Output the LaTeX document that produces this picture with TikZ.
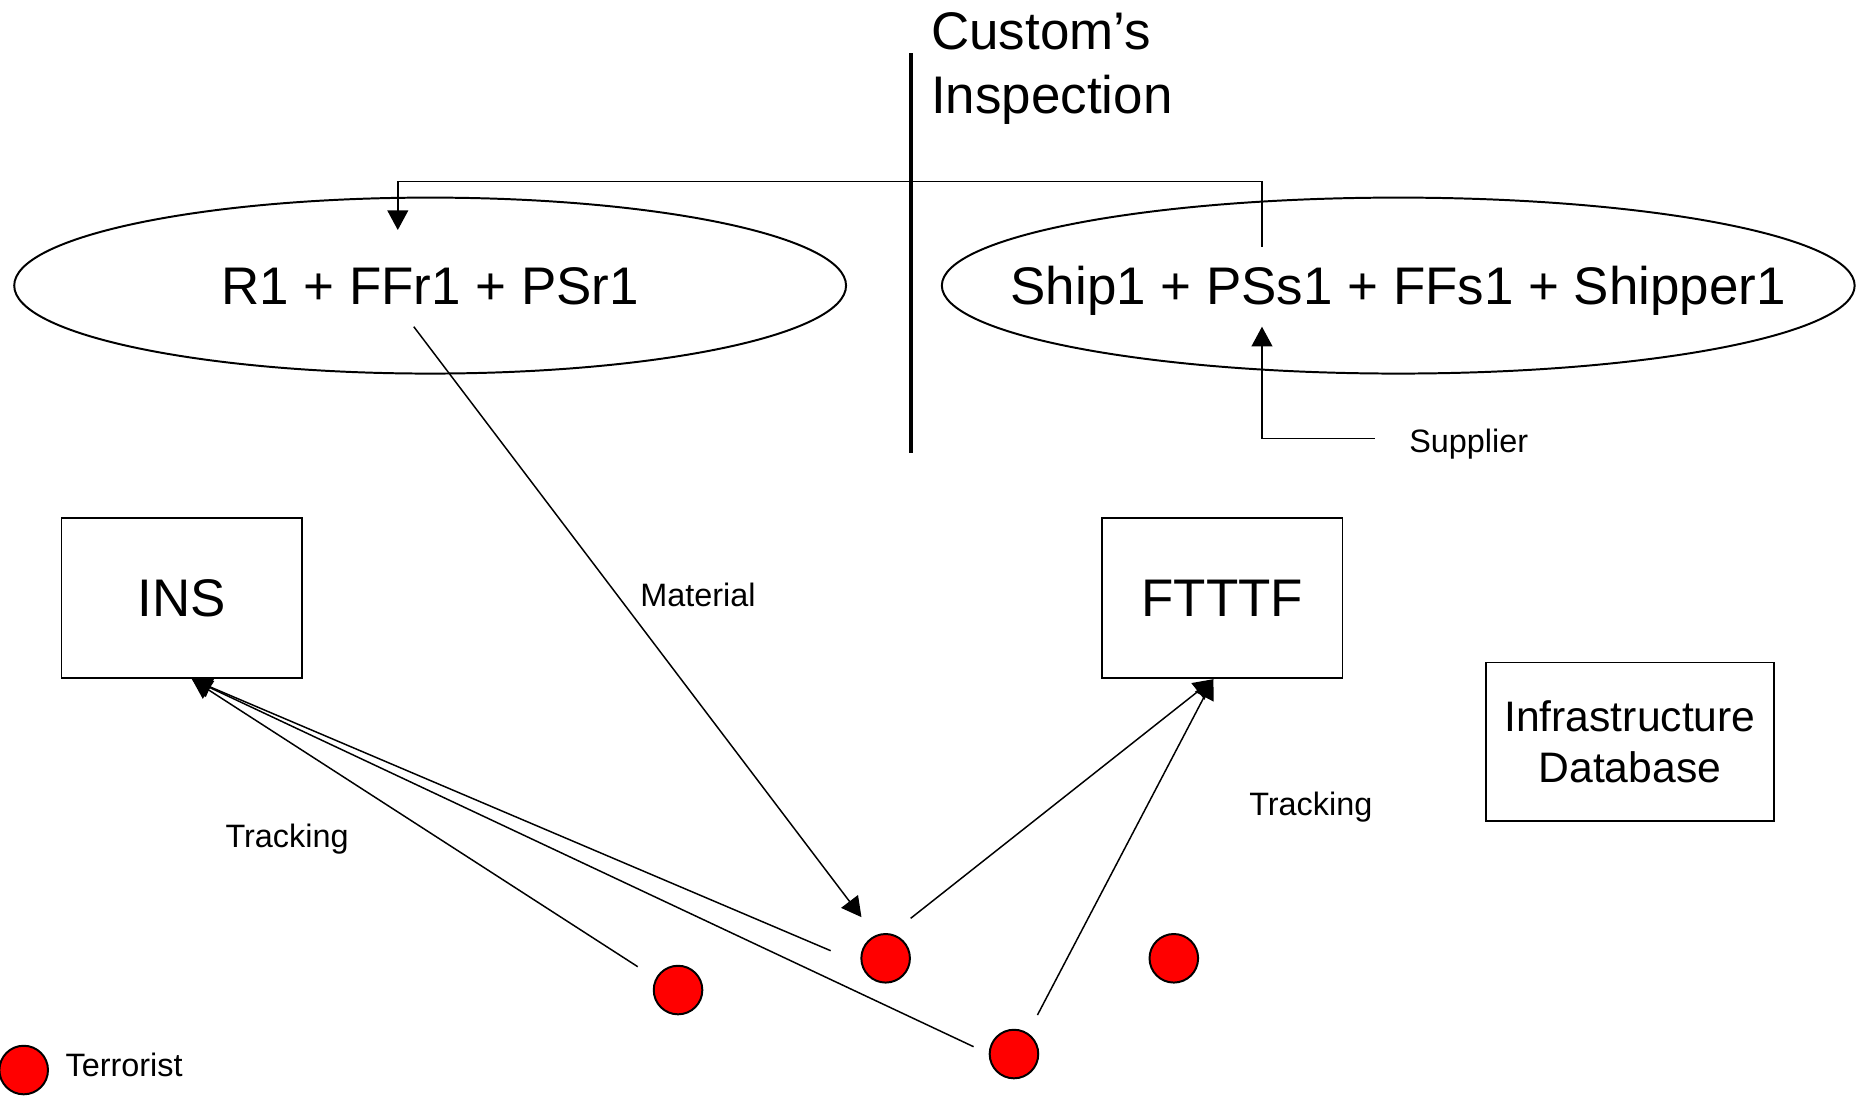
\documentclass[tikz,border=0pt]{standalone}
\usepackage{fontspec}
\setmainfont{Liberation Sans}
\usetikzlibrary{arrows.meta,shapes.geometric,calc}
\begin{document}
\begin{tikzpicture}[x=0.6pt,y=-0.6pt,
  bigfont/.style={font=\fontsize{26.8}{31}\selectfont},
  midfont/.style={font=\fontsize{21.6}{25.8}\selectfont},
  smallfont/.style={font=\fontsize{16.4}{19}\selectfont},
  group/.style={draw, line width=1pt, shape=ellipse, inner sep=0pt, minimum height=89.1pt},
  grouptext/.style={bigfont, text height=19.2pt, text depth=0pt, inner sep=0pt},
  agency/.style={draw, line width=0.8pt, rectangle, inner sep=0pt, bigfont, text height=19.2pt, text depth=0pt, minimum width=121.8pt, minimum height=81pt},
  terror/.style={draw, line width=1pt, fill=red, circle, inner sep=0pt, minimum size=24.6pt},
  lbl/.style={smallfont, text height=11.8pt, text depth=0pt, inner sep=0pt, anchor=west},
  conn/.style={line width=0.75pt, -{Triangle[length=10pt,width=10.6pt]}},
  heavy/.style={line width=1.8pt},
]
\useasboundingbox (0,0) rectangle (1568,928);

% groups
\node[group, minimum width=421.2pt] (R) at (363,241) {};
\node[grouptext] (Rt) at (R.center) {R1 + FFr1 + PSr1};
\node[group, minimum width=462.2pt] (S) at (1180,241) {};
\node[grouptext] (St) at (S.center) {Ship1 + PSs1 + FFs1 + Shipper1};

% customs line and title
\coordinate (vtop) at (769,45);
\coordinate (vbot) at (769,382);
\draw[heavy] (vtop) -- (vbot);
\node[bigfont, anchor=base west, inner sep=0pt] (cust) at (785.5,41.5) {Custom’s};
\node[bigfont, anchor=base west, inner sep=0pt] (insp) at (785.5,96) {Inspection};

% agencies
\node[agency] (INS) at (153.5,504.5) {INS};
\node[agency] (FT) at (1031.5,504.5) {FTTTF};
\node[draw, line width=0.8pt, midfont, align=center, minimum width=145.8pt, minimum height=80.4pt, inner sep=0pt] (DB) at (1375.5,626) {Infrastructure\\Database};

% terrorists
\node[terror] (t1) at (572.2,835.5) {};
\node[terror] (t2) at (747.4,808.7) {};
\node[terror] (t3) at (990.6,808.7) {};
\node[terror] (t4) at (855.7,889.5) {};
\node[terror] (leg) at (20,903) {};

% bracket from ship group to receiver group
\coordinate (brR) at ($(S.center)+(-115,-32.8)$);
\coordinate (brTop) at (1065,153.3);
\coordinate (brTip) at ($(R.center)+(-27.3,-46.9)$);
\draw[conn] (brR) -- (brTop) -| (brTip);

% supplier
\coordinate (supS) at (1160,370);
\coordinate (supTip) at ($(S.center)+(-115,34.7)$);
\draw[conn] (supS) -| (supTip);

% material
\coordinate (matS) at ($(R.center)+(-13.8,34.7)$);
\coordinate (matTip) at ($(t2)+(-20.4,-34.7)$);
\draw[conn] (matS) -- (matTip);

% tracking to INS
\coordinate (insTip) at ($(INS.south)+(8.5,0.5)$);
\coordinate (s1) at ($(t1)+(-34,-19.7)$);
\coordinate (s2) at ($(t2)+(-46.4,-6.4)$);
\coordinate (s3) at ($(t4)+(-34.1,-6.2)$);
\draw[conn] (s1) -- (insTip);
\draw[conn] (s2) -- (insTip);
\draw[conn] (s3) -- (insTip);

% tracking to FTTTF
\coordinate (ftTip) at ($(FT.south)+(-7.5,0.5)$);
\coordinate (s4) at ($(t2)+(21.1,-33.7)$);
\coordinate (s5) at ($(t4)+(19.8,-32.9)$);
\draw[conn] (s4) -- (ftTip);
\draw[conn] (s5) -- (ftTip);

% labels
\node[lbl] (sup) at (1189,372) {Supplier};
\node[lbl] (mat) at (540,502) {Material};
\node[lbl] (trL) at (190,705) {Tracking};
\node[lbl] (trR) at (1054,678) {Tracking};
\node[lbl] (legt) at (55,899) {Terrorist};
\end{tikzpicture}
\end{document}
